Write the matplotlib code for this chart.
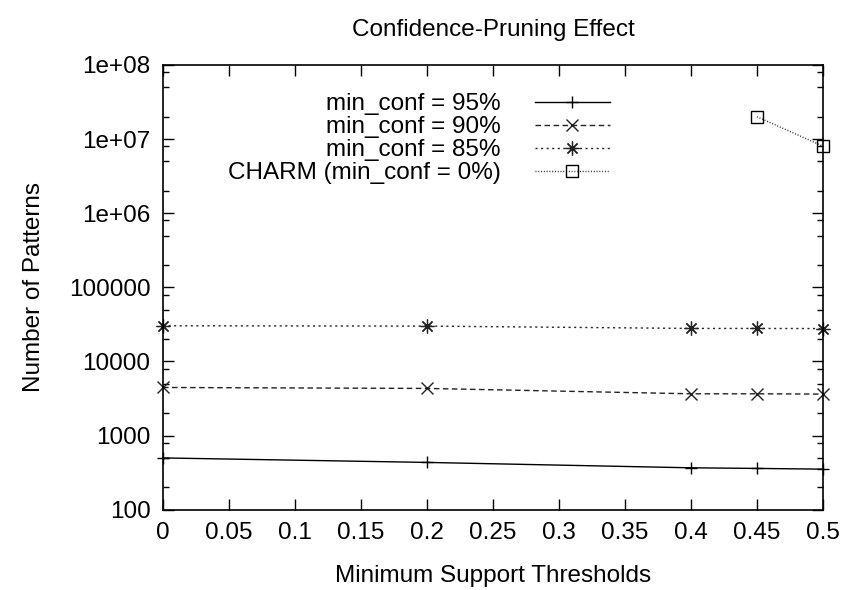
#!/usr/bin/env python
"""Confidence-pruning effect, log-scale pattern counts"""

import matplotlib
matplotlib.use('Agg')
import matplotlib.pyplot as plt
from matplotlib.ticker import LogLocator, FixedLocator, NullFormatter

plt.rcParams['font.family'] = ['Liberation Sans', 'DejaVu Sans']

# data
support = [0.0, 0.2, 0.4, 0.45, 0.5]
conf_95 = [500, 435, 368, 361, 353]
conf_90 = [4460, 4330, 3665, 3665, 3630]
conf_85 = [30300, 30000, 27900, 27900, 27800]
charm_support = [0.45, 0.5]
charm = [2.0e7, 8.0e6]

x_ticks = [0, 0.05, 0.1, 0.15, 0.2, 0.25, 0.3, 0.35, 0.4, 0.45, 0.5]
x_labels = ['0', '0.05', '0.1', '0.15', '0.2', '0.25', '0.3', '0.35', '0.4', '0.45', '0.5']
y_ticks = [1e2, 1e3, 1e4, 1e5, 1e6, 1e7, 1e8]
y_labels = ['100', '1000', '10000', '100000', '1e+06', '1e+07', '1e+08']

fs = 17.5

fig = plt.figure(figsize=(8.42, 5.9), dpi=100)
ax = fig.add_axes([0.1936, 0.136, 0.7838, 0.754])

ax.plot(support, conf_95, color='black', lw=1, linestyle='-',
        marker='+', ms=9, mew=1, clip_on=False, label='min_conf = 95%')
ax.plot(support, conf_90, color='#222222', lw=1, linestyle=(0, (4, 2.5)),
        marker='x', ms=8, mew=1, clip_on=False, label='min_conf = 90%')
ax.plot(support, conf_85, color='#222222', lw=1, linestyle=(0, (1.5, 2.5)),
        marker=(8, 2, 0), ms=10, mew=0.9, clip_on=False, label='min_conf = 85%')
ax.plot(charm_support, charm, color='#222222', lw=1, linestyle=(0, (0.7, 1.3)),
        marker='s', ms=8.5, mew=1, mfc='none', mec='black', clip_on=False,
        label='CHARM (min_conf = 0%)')

ax.set_yscale('log')
ax.set_xlim(0, 0.5)
ax.set_ylim(100, 1e8)

ax.xaxis.set_major_locator(FixedLocator(x_ticks))
ax.set_xticklabels(x_labels)
ax.yaxis.set_major_locator(FixedLocator(y_ticks))
ax.set_yticklabels(y_labels)
ax.yaxis.set_minor_locator(LogLocator(base=10, subs=[2, 5, 8]))
ax.yaxis.set_minor_formatter(NullFormatter())

ax.tick_params(which='both', direction='in', top=True, right=True,
               labelsize=fs, width=1)
ax.tick_params(which='major', length=8, pad=9)
ax.tick_params(which='minor', length=4)
ax.tick_params(axis='x', pad=9)
for s in ax.spines.values():
    s.set_linewidth(1.2)

ax.set_title('Confidence-Pruning Effect', fontsize=fs, pad=21)
ax.set_xlabel('Minimum Support Thresholds', fontsize=fs, labelpad=15)
ax.set_ylabel('Number of Patterns', fontsize=fs, labelpad=17)

leg = ax.legend(loc='upper right', bbox_to_anchor=(0.703, 0.975),
                frameon=False, markerfirst=False, fontsize=fs,
                handlelength=3.1, handletextpad=1.4, labelspacing=0.04,
                borderpad=0.2)
for t in leg.get_texts():
    t.set_ha('right')

fig.savefig('out.png', dpi=100)
